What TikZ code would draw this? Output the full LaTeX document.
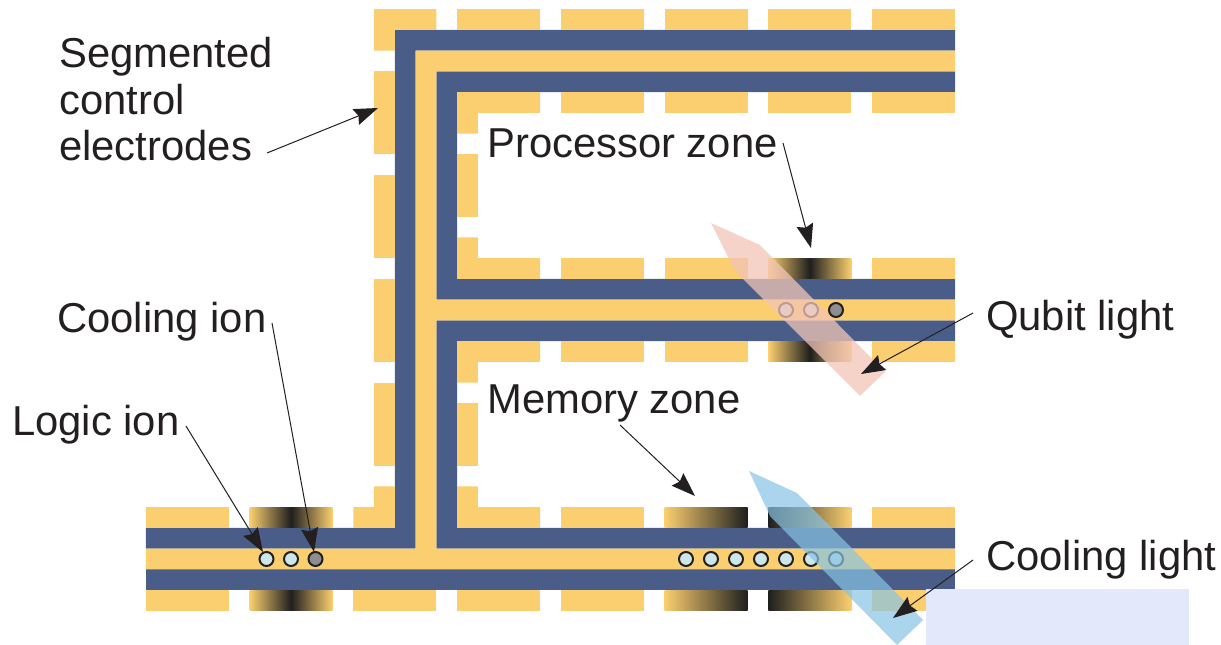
\documentclass[tikz,border=0pt]{standalone}
\usepackage{fontspec}
\setmainfont{Liberation Sans}
\usetikzlibrary{arrows.meta}

\definecolor{rail}{RGB}{251,207,111}
\definecolor{trap}{RGB}{73,93,136}
\definecolor{ink}{RGB}{35,31,32}
\definecolor{ioncyan}{RGB}{205,230,232}
\definecolor{iongray}{RGB}{142,142,142}
\definecolor{qubitbeam}{RGB}{242,196,182}
\definecolor{coolbeam}{RGB}{135,195,228}
\definecolor{panel}{RGB}{227,232,251}

\tikzset{
  lbl/.style={inner sep=0pt, anchor=base west, text=ink, font=\fontsize{41.8}{46}\selectfont},
  arr/.style={draw=ink, line width=1pt, -{Stealth[length=24pt,width=17pt,inset=3pt]}},
  ion/.style={circle, draw=ink, line width=2pt, minimum size=14pt, inner sep=0pt, fill=ioncyan},
  hotion/.style={ion, fill=iongray},
  plainseg/.style={fill=rail},
  ybyseg/.style={left color=rail, right color=rail, middle color=black!88},
  ybseg/.style={left color=rail, right color=black!88},
  byseg/.style={left color=black!88, right color=rail},
}

\begin{document}
\begin{tikzpicture}[x=1pt, y=-1pt]
\useasboundingbox (0,0) rectangle (1221,645);

% ---------------- trap electrodes (grid of 20.75pt) ----------------
\begin{scope}[shift={(374,9)}, x=20.75pt, y=-20.75pt]
  % blue rails
  \fill[trap] (1,1) -- (28,1) -- (28,2) -- (2,2) -- (2,26) -- (-11,26) -- (-11,25) -- (1,25) -- cycle;
  \fill[trap] (3,3) -- (28,3) -- (28,4) -- (4,4) -- (4,13) -- (28,13) -- (28,14) -- (3,14) -- cycle;
  \fill[trap] (3,15) -- (28,15) -- (28,16) -- (4,16) -- (4,25) -- (28,25) -- (28,26) -- (3,26) -- cycle;
  \fill[trap] (-11,27) rectangle (28,28);
  % central channel
  \fill[rail] (2,2) -- (28,2) -- (28,3) -- (3,3) -- (3,14) -- (28,14) -- (28,15) -- (3,15)
              -- (3,26) -- (28,26) -- (28,27) -- (-11,27) -- (-11,26) -- (2,26) -- cycle;

  % corner segments
  \fill[plainseg] (0,0) -- (3,0) -- (3,1) -- (1,1) -- (1,2) -- (0,2) -- cycle;
  \fill[plainseg] (4,4) -- (8,4) -- (8,5) -- (5,5) -- (5,6) -- (4,6) -- cycle;
  \fill[plainseg] (4,11) -- (5,11) -- (5,12) -- (8,12) -- (8,13) -- (4,13) -- cycle;
  \fill[plainseg] (4,16) -- (8,16) -- (8,17) -- (5,17) -- (5,18) -- (4,18) -- cycle;
  \fill[plainseg] (4,23) -- (5,23) -- (5,24) -- (8,24) -- (8,25) -- (4,25) -- cycle;
  \fill[plainseg] (0,23) -- (1,23) -- (1,25) -- (-1,25) -- (-1,24) -- (0,24) -- cycle;

  % outer vertical column
  \foreach \b in {3,8,13,18} \fill[plainseg] (0,\b) rectangle ++(1,4);
  % inner vertical column
  \fill[plainseg] (4,7) rectangle (5,10);
  \fill[plainseg] (4,19) rectangle (5,22);

  % top row
  \foreach \a in {4,9,14,19,24} \fill[plainseg] (\a,0) rectangle ++(4,1);
  % processor zone, upper side of top rail
  \foreach \a in {9,14,19,24} \fill[plainseg] (\a,4) rectangle ++(4,1);
  % processor zone rows
  \foreach \a in {9,14,24} {
    \fill[plainseg] (\a,12) rectangle ++(4,1);
    \fill[plainseg] (\a,16) rectangle ++(4,1);
  }
  \shade[ybyseg] (19,12) rectangle (23,13);
  \shade[ybyseg] (19,16) rectangle (23,17);

  % memory zone / lower channel, upper row
  \foreach \a in {-11,9,24} \fill[plainseg] (\a,24) rectangle ++(4,1);
  \shade[ybyseg] (-6,24) rectangle (-2,25);
  \shade[ybseg] (14,24) rectangle (18,25);
  \shade[byseg] (19,24) rectangle (23,25);
  % lower channel, lower row
  \foreach \a in {-11,-1,4,9,24} \fill[plainseg] (\a,28) rectangle ++(4,1);
  \shade[ybyseg] (-6,28) rectangle (-2,29);
  \shade[ybseg] (14,28) rectangle (18,29);
  \shade[byseg] (19,28) rectangle (23,29);
\end{scope}

% ---------------- ions ----------------
\node[ion] (li1) at (266.5,559) {};
\node[ion] (li2) at (291,559) {};
\node[hotion] (li3) at (315.5,559) {};

\node[ion] (pi1) at (786,310) {};
\node[ion] (pi2) at (811,310) {};
\node[hotion] (pi3) at (836,310) {};

\foreach \i [count=\k] in {686,711,736,761,786,811,836}
  \node[ion] (mi\k) at (\i,559) {};

% ---------------- laser beams ----------------
\fill[qubitbeam, opacity=0.75] (711,223) -- (760,245) -- (885,372) -- (860,396) -- (735,271) -- cycle;
\fill[coolbeam, opacity=0.7] (749,471) -- (797,493) -- (923,620) -- (897,645) -- (770,516) -- cycle;

\fill[panel] (926,589) rectangle (1189,645);

% ---------------- labels ----------------
\node[lbl] (tseg1) at (59,67) {Segmented};
\node[lbl] (tseg2) at (59,114) {control};
\node[lbl] (tseg3) at (59,160) {electrodes};
\node[lbl] (tproc) at (487,157) {Processor zone};
\node[lbl] (tmem) at (487,413) {Memory zone};
\node[lbl] (tcion) at (57,332) {Cooling ion};
\node[lbl] (tlion) at (12,435) {Logic ion};
\node[lbl] (tqub) at (986,330) {Qubit light};
\node[lbl] (tcool) at (986,570) {Cooling light};

% ---------------- pointer arrows ----------------
\coordinate (sSeg) at (267,153);   \coordinate (eSeg) at (378,108);
\coordinate (sProc) at (783,143);  \coordinate (eProc) at (811,248);
\coordinate (sQub) at (973,313);   \coordinate (eQub) at (861,374);
\coordinate (sMem) at (620,425);   \coordinate (eMem) at (695,496);
\coordinate (sCool) at (973,560);  \coordinate (eCool) at (893,618);
\coordinate (sLog) at (186,426);   \coordinate (eLog) at (263,552);
\coordinate (sCion) at (272,323);  \coordinate (eCion) at (314,552);

\draw[arr] (sSeg) -- (eSeg);
\draw[arr] (sProc) -- (eProc);
\draw[arr] (sQub) -- (eQub);
\draw[arr] (sMem) -- (eMem);
\draw[arr] (sCool) -- (eCool);
\draw[arr] (sLog) -- (eLog);
\draw[arr] (sCion) -- (eCion);
\end{tikzpicture}
\end{document}
